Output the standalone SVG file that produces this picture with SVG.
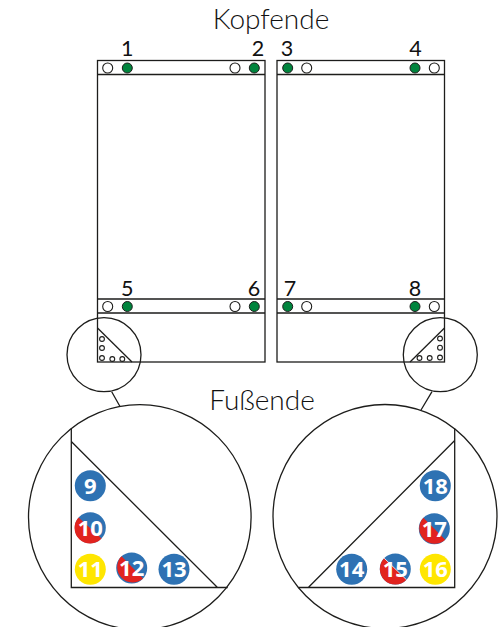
<svg xmlns="http://www.w3.org/2000/svg" width="503" height="627" viewBox="0 0 503 627">
<style>
.l{fill:none;stroke:#1d1d1b;stroke-width:1.3}
.w{fill:#fff;stroke:#1d1d1b;stroke-width:1.1}
.g{fill:#00843d;stroke:#1d1d1b;stroke-width:1}
.b{fill:#2e72b3}.r{fill:#e1231f}.y{fill:#ffe600}
.s{fill:none;stroke:#fff;stroke-width:.8}
.d{fill:#fff;stroke:#1d1d1b;stroke-width:1.1}
text{font-family:"Lato","Liberation Sans",sans-serif;fill:#111}
.t{font-size:28px;font-weight:300;text-anchor:middle}
.n{font-size:21.5px;font-weight:400;text-anchor:middle}
.c{font-family:"Open Sans","Liberation Sans",sans-serif;font-size:22px;font-weight:700;fill:#fff;text-anchor:middle}
</style>
<rect width="503" height="627" fill="#fff"/>
<text class="t" x="271" y="28.5">Kopfende</text>
<text class="t" x="262" y="409.5">Fußende</text>
<g id="bed-left">
<rect class="l" x="97.5" y="60.5" width="167.5" height="301.5"/>
<path class="l" d="M97.5 74.5H265M97.5 299H265M97.5 313H265"/>
<circle class="w" cx="107.7" cy="68" r="5"/><circle class="g" cx="127.3" cy="68" r="5"/>
<circle class="w" cx="235" cy="68" r="5"/><circle class="g" cx="254.3" cy="68" r="5"/>
<circle class="w" cx="107.7" cy="306.5" r="5"/><circle class="g" cx="127.3" cy="306.5" r="5"/>
<circle class="w" cx="235" cy="306.5" r="5"/><circle class="g" cx="254.3" cy="306.5" r="5"/>
<text class="n" x="127.3" y="56">1</text><text class="n" x="258" y="56">2</text>
<text class="n" x="127.3" y="296">5</text><text class="n" x="254" y="296">6</text>
</g>
<g id="bed-right">
<rect class="l" x="277" y="60.5" width="167.5" height="301.5"/>
<path class="l" d="M277 74.5H444.5M277 299H444.5M277 313H444.5"/>
<circle class="g" cx="287.7" cy="68" r="5"/><circle class="w" cx="306.7" cy="68" r="5"/>
<circle class="g" cx="415" cy="68" r="5"/><circle class="w" cx="434.3" cy="68" r="5"/>
<circle class="g" cx="287.7" cy="306.5" r="5"/><circle class="w" cx="306.7" cy="306.5" r="5"/>
<circle class="g" cx="415" cy="306.5" r="5"/><circle class="w" cx="434.3" cy="306.5" r="5"/>
<text class="n" x="287" y="56">3</text><text class="n" x="415.5" y="56">4</text>
<text class="n" x="290" y="296">7</text><text class="n" x="415" y="296">8</text>
</g>
<g id="connectors">
<path class="l" d="M111.7 391.7L120 406.5M432 391.7L421 410"/>
</g>
<g id="zoom-small-left">
<circle class="l" cx="104" cy="354.7" r="37"/>
<path class="l" d="M97.5 328L132 362"/>
<circle class="d" cx="102" cy="339" r="2.4"/><circle class="d" cx="102" cy="348" r="2.4"/><circle class="d" cx="102" cy="358" r="2.4"/><circle class="d" cx="112.3" cy="359" r="2.4"/><circle class="d" cx="122.3" cy="359" r="2.4"/>
</g>
<g id="zoom-small-right">
<circle class="l" cx="440.3" cy="354.7" r="37"/>
<path class="l" d="M444.5 328L410 362"/>
<circle class="d" cx="440" cy="338.5" r="2.4"/><circle class="d" cx="440" cy="347.7" r="2.4"/><circle class="d" cx="440" cy="357.5" r="2.4"/><circle class="d" cx="429.7" cy="358" r="2.4"/><circle class="d" cx="419.5" cy="358" r="2.4"/>
</g>
<g id="zoom-large-left">
<ellipse class="l" cx="139.8" cy="517.2" rx="111.3" ry="112.5"/>
<path class="l" d="M71.3 428.5V587.5H227.7M71.3 441.5L217.5 587.5"/>
<g id="n9"><circle class="b" cx="90.3" cy="485.7" r="15.5"/><text class="c" x="90.3" y="493.5">9</text></g>
<g id="n10"><circle class="b" cx="90.3" cy="527.7" r="15.5"/><path class="r" d="M78.6 517.5A15.5 15.5 0 0 0 101.5 538.4Z"/><text class="c" x="90.3" y="535.5">10</text></g>
<g id="n11"><circle class="y" cx="90.3" cy="569.3" r="15.5"/><text class="c" x="90.3" y="577">11</text></g>
<g id="n12"><circle class="b" cx="131.7" cy="568" r="15.5"/><path class="r" d="M121.5 556.3A15.5 15.5 0 0 0 143 578.6Z"/><text class="c" x="131.7" y="576">12</text></g>
<g id="n13"><circle class="b" cx="174" cy="569.3" r="15.5"/><text class="c" x="174" y="577">13</text></g>
</g>
<g id="zoom-large-right">
<circle class="l" cx="385" cy="516.5" r="112"/>
<path class="l" d="M454.7 428.5V587.5H298.3M454.7 440.5L308.3 587.5"/>
<g id="n14"><circle class="b" cx="351.7" cy="569.3" r="15.5"/><text class="c" x="351.7" y="577">14</text></g>
<g id="n15"><circle class="b" cx="395.3" cy="569" r="15.5"/><path class="r" d="M384.2 558.2A15.5 15.5 0 0 0 406.5 579.8Z"/><path class="s" d="M384.2 558.2L406.5 579.8"/><text class="c" x="395.3" y="577">15</text></g>
<g id="n16"><circle class="y" cx="435.3" cy="569.3" r="15.5"/><text class="c" x="435.3" y="577">16</text></g>
<g id="n17"><circle class="b" cx="434.3" cy="528.7" r="15.5"/><path class="r" d="M423.4 517.7A15.5 15.5 0 0 0 445.2 539.7Z"/><text class="c" x="434.3" y="536.5">17</text></g>
<g id="n18"><circle class="b" cx="435.3" cy="485.7" r="15.5"/><text class="c" x="435.3" y="493.5">18</text></g>
</g>
</svg>
